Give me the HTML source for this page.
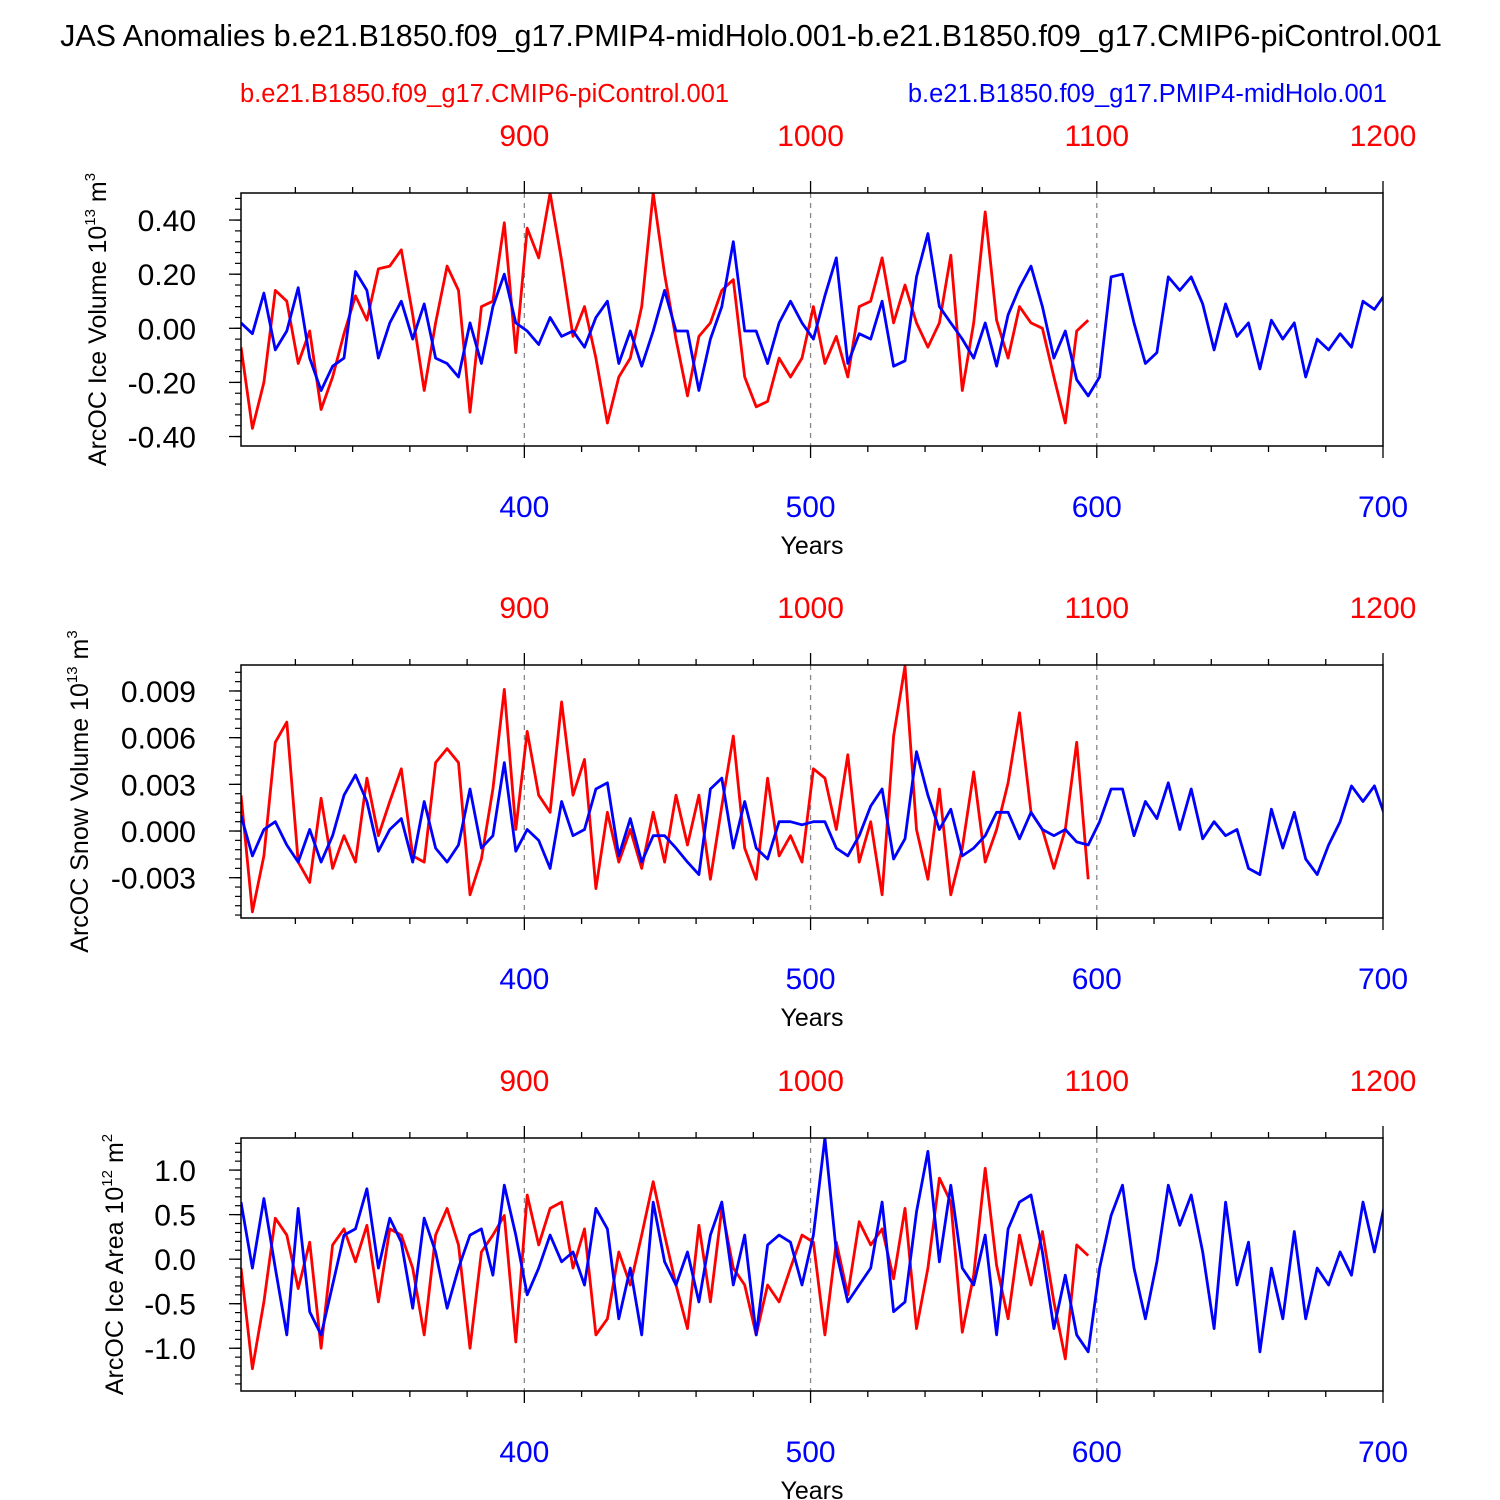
<!DOCTYPE html>
<html><head><meta charset="utf-8"><style>
html,body{margin:0;padding:0;background:#fff;}
svg{display:block;font-family:"Liberation Sans",Arial,sans-serif;}
</style></head><body>
<svg id="chart" width="1500" height="1500" viewBox="0 0 1500 1500" xmlns="http://www.w3.org/2000/svg">
<rect width="1500" height="1500" fill="#fff"/>
<text x="751" y="46" font-size="30.5" text-anchor="middle">JAS Anomalies b.e21.B1850.f09_g17.PMIP4-midHolo.001-b.e21.B1850.f09_g17.CMIP6-piControl.001</text>
<text x="240" y="102" font-size="25.5" fill="#ff0000">b.e21.B1850.f09_g17.CMIP6-piControl.001</text>
<text x="1387" y="102" font-size="25.5" fill="#0000ff" text-anchor="end">b.e21.B1850.f09_g17.PMIP4-midHolo.001</text>
</svg>
<script>
// ---- data (step: 4 years) ----
const blueStart = 301;
const redStart = 801;
const yearStep = 4;
const blueIce = [0.02,-0.02,0.13,-0.08,-0.01,0.15,-0.11,-0.23,-0.14,-0.11,0.21,0.14,-0.11,0.02,0.10,-0.04,0.09,-0.11,-0.13,-0.18,0.02,-0.13,0.08,0.20,0.02,-0.01,-0.06,0.04,-0.03,-0.01,-0.07,0.04,0.10,-0.13,-0.01,-0.14,-0.01,0.14,-0.01,-0.01,-0.23,-0.04,0.08,0.32,-0.01,-0.01,-0.13,0.02,0.10,0.02,-0.04,
0.12,0.26,-0.13,-0.02,-0.04,0.10,-0.14,-0.12,0.19,0.35,0.08,0.02,-0.04,-0.11,0.02,-0.14,0.05,0.15,0.23,0.08,-0.11,-0.01,-0.19,-0.25,-0.18,0.19,0.20,0.02,-0.13,-0.09,0.19,0.14,0.19,0.09,-0.08,0.09,-0.03,0.02,-0.15,0.03,-0.04,0.02,-0.18,-0.04,-0.08,-0.02,-0.07,0.10,0.07,0.13];
const redIce = [-0.07,-0.37,-0.20,0.14,0.10,-0.13,-0.01,-0.30,-0.18,-0.02,0.12,0.03,0.22,0.23,0.29,0.05,-0.23,0.02,0.23,0.14,-0.31,0.08,0.10,0.39,-0.09,0.37,0.26,0.50,0.25,-0.03,0.08,-0.11,-0.35,-0.18,-0.11,0.08,0.50,0.20,-0.04,-0.25,-0.03,0.02,0.14,0.18,-0.18,-0.29,-0.27,-0.11,-0.18,-0.11,0.08,
-0.13,-0.03,-0.18,0.08,0.10,0.26,0.02,0.16,0.02,-0.07,0.02,0.27,-0.23,0.02,0.43,0.03,-0.11,0.08,0.02,0.00,-0.18,-0.35,-0.01,0.03];
const blueSnow = [1.0,-1.6,0.1,0.6,-0.9,-2.0,0.1,-2.0,-0.3,2.3,3.6,1.9,-1.3,0.1,0.8,-2.0,1.9,-1.1,-2.0,-0.9,2.7,-1.1,-0.3,4.4,-1.3,0.1,-0.6,-2.4,1.9,-0.3,0.1,2.7,3.1,-1.6,0.8,-2.0,-0.3,-0.3,-1.1,-2.0,-2.8,2.7,3.4,-1.1,1.9,-1.1,-1.8,0.6,0.6,0.4,0.6,
0.6,-1.1,-1.6,-0.3,1.6,2.7,-1.8,-0.5,5.1,2.3,0.1,1.4,-1.6,-1.1,-0.3,1.2,1.2,-0.5,1.2,0.1,-0.3,0.1,-0.7,-0.9,0.6,2.7,2.7,-0.3,1.9,0.8,3.1,0.1,2.7,-0.5,0.6,-0.3,0.1,-2.4,-2.8,1.4,-1.1,1.2,-1.8,-2.8,-0.9,0.6,2.9,1.9,2.9,0.8];
const redSnow = [2.3,-5.2,-1.6,5.7,7.0,-2.0,-3.3,2.1,-2.4,-0.3,-2.0,3.4,-0.3,1.9,4.0,-1.6,-2.0,4.4,5.3,4.4,-4.1,-1.8,2.7,9.1,0.1,6.4,2.3,1.2,8.3,2.3,4.6,-3.7,1.2,-2.0,0.1,-2.4,1.2,-2.0,2.3,-0.9,2.3,-3.1,1.6,6.1,-1.1,-3.1,3.4,-1.6,-0.3,-2.0,4.0,
3.4,0.1,4.9,-2.0,0.6,-4.1,6.1,10.6,0.1,-3.1,2.7,-4.1,-1.1,3.8,-2.0,0.1,3.1,7.6,1.2,0.1,-2.4,0.1,5.7,-3.1];
const blueArea = [0.64,-0.10,0.68,-0.10,-0.85,0.57,-0.59,-0.85,-0.29,0.27,0.34,0.79,-0.10,0.46,0.19,-0.55,0.46,0.08,-0.55,-0.10,0.27,0.34,-0.18,0.83,0.27,-0.40,-0.10,0.27,-0.03,0.08,-0.29,0.57,0.34,-0.67,-0.10,-0.85,0.64,-0.03,-0.29,0.08,-0.48,0.27,0.64,-0.29,0.27,-0.85,0.16,0.27,0.19,-0.29,0.27,
1.36,0.08,-0.48,-0.29,-0.10,0.64,-0.59,-0.48,0.53,1.21,-0.03,0.83,-0.10,-0.29,0.27,-0.85,0.34,0.64,0.72,0.08,-0.78,-0.18,-0.85,-1.04,-0.10,0.49,0.83,-0.10,-0.67,-0.03,0.83,0.38,0.72,0.08,-0.78,0.64,-0.29,0.19,-1.04,-0.10,-0.67,0.31,-0.67,-0.10,-0.29,0.08,-0.18,0.64,0.08,0.68];
const redArea = [-0.10,-1.23,-0.48,0.46,0.27,-0.33,0.19,-1.00,0.16,0.34,-0.03,0.38,-0.48,0.34,0.27,-0.10,-0.85,0.27,0.57,0.16,-1.00,0.08,0.27,0.49,-0.93,0.72,0.16,0.57,0.64,-0.10,0.34,-0.85,-0.67,0.08,-0.29,0.27,0.87,0.27,-0.29,-0.78,0.38,-0.48,0.57,-0.10,-0.29,-0.85,-0.29,-0.48,-0.10,0.27,0.19,
-0.85,0.19,-0.40,0.42,0.16,0.34,-0.22,0.57,-0.78,-0.10,0.91,0.64,-0.82,-0.18,1.02,-0.07,-0.67,0.27,-0.29,0.31,-0.48,-1.12,0.16,0.04];
const blueTickLabels = ["400","500","600","700"];
const redTickLabels = ["900","1000","1100","1200"];
const panelTitles = ["ArcOC Ice Volume 10","ArcOC Snow Volume 10","ArcOC Ice Area 10"];

const NS="http://www.w3.org/2000/svg";
const svg=document.getElementById('chart');
function mk(tag,attrs,parent){const e=document.createElementNS(NS,tag);for(const k in attrs)e.setAttribute(k,attrs[k]);(parent||svg).appendChild(e);return e;}
const X0=241,X1=1383,YR0=301,YR1=700;
const xOf=yr=>X0+(yr-YR0)/(YR1-YR0)*(X1-X0);

const panels=[
 {top:193,bot:446,ymin:-0.435,ymax:0.50,major:[-0.4,-0.2,0,0.2,0.4],minorStep:0.04,dec:2,scale:1,blue:blueIce,red:redIce,unit:"3",ttlX:106,name:"ice-volume"},
 {top:665,bot:918,ymin:-5.59,ymax:10.67,major:[-3,0,3,6,9],minorStep:0.6,dec:3,scale:0.001,blue:blueSnow,red:redSnow,unit:"3",ttlX:88,name:"snow-volume"},
 {top:1138,bot:1391,ymin:-1.48,ymax:1.36,major:[-1,-0.5,0,0.5,1],minorStep:0.1,dec:1,scale:1,blue:blueArea,red:redArea,unit:"2",ttlX:123,name:"ice-area"}
];
panels.forEach((p,pi)=>{
 const g=mk('g',{});
 
 
 const yOf=v=>p.bot-(v-p.ymin)/(p.ymax-p.ymin)*(p.bot-p.top);
 const cid='clip'+pi;
 const cp=mk('clipPath',{id:cid},g);mk('rect',{x:X0,y:p.top,width:X1-X0,height:p.bot-p.top},cp);
 [400,500,600].forEach(yr=>{const l=mk('line',{x1:xOf(yr),x2:xOf(yr),y1:p.top,y2:p.bot,stroke:'#888','stroke-width':1.3,'stroke-dasharray':'5,5'},g);
  
  });
 for(let yr=320;yr<=700;yr+=20){const major=yr%100===0;const L=major?12:6;
  mk('line',{x1:xOf(yr),x2:xOf(yr),y1:p.bot,y2:p.bot+L,stroke:'#000','stroke-width':1.3},g);
  mk('line',{x1:xOf(yr),x2:xOf(yr),y1:p.top,y2:p.top-L,stroke:'#000','stroke-width':1.3},g);}
 blueTickLabels.forEach((t,i)=>{const yr=400+100*i;const e=mk('text',{x:xOf(yr),y:p.bot+71,'font-size':30,fill:'#0000ff','text-anchor':'middle'},g);e.textContent=t;
  
  });
 redTickLabels.forEach((t,i)=>{const yr=400+100*i;const e=mk('text',{x:xOf(yr),y:p.top-47,'font-size':30,fill:'#ff0000','text-anchor':'middle'},g);e.textContent=t;
  
  });
 const xt=mk('text',{x:812,y:p.bot+108,'font-size':25,'text-anchor':'middle'},g);xt.textContent='Years';
 
 
 const s=p.minorStep;
 for(let k=Math.ceil(p.ymin/s);k*s<=p.ymax+1e-9;k++){const v=k*s;const y=yOf(v);
  mk('line',{x1:X0-6,x2:X0,y1:y,y2:y,stroke:'#000','stroke-width':1.2},g);}
 p.major.forEach(v=>{const y=yOf(v);
  mk('line',{x1:X0-12,x2:X0,y1:y,y2:y,stroke:'#000','stroke-width':1.3},g);
  const e=mk('text',{x:196,y:y+11,'font-size':30,'text-anchor':'end'},g);
  e.textContent=(v*p.scale).toFixed(p.dec);
  
  });
 const cy=(p.top+p.bot)/2;
 const yt=mk('text',{x:p.ttlX,y:cy,'font-size':25,'text-anchor':'middle',transform:`rotate(-90 ${p.ttlX} ${cy})`},g);
 
 
 const t1=mk('tspan',{},yt);t1.textContent=panelTitles[pi];
 const t2=mk('tspan',{'font-size':15,dy:-11},yt);t2.textContent=(pi===2?'12':'13');
 const t3=mk('tspan',{dy:11},yt);t3.textContent=' m';
 const t4=mk('tspan',{'font-size':15,dy:-11},yt);t4.textContent=p.unit;
 const lg=mk('g',{'clip-path':`url(#${cid})`},g);
 const line=(arr,start,color,nm)=>{
  const pts=arr.map((v,i)=>xOf(start+i*yearStep-500*(start>=800?1:0)).toFixed(1)+','+yOf(v).toFixed(1)).join(' ');
  const pl=mk('polyline',{points:pts,fill:'none',stroke:color,'stroke-width':2.8,'stroke-linejoin':'round'},lg);
  
  };
 line(p.red,redStart,'#ff0000',p.name+'-picontrol-line');
 line(p.blue,blueStart,'#0000ff',p.name+'-midholo-line');
 const fr=mk('rect',{x:X0,y:p.top,width:X1-X0,height:p.bot-p.top,fill:'none',stroke:'#000','stroke-width':1.5},g);
 
 
});
</script>
</body></html>
